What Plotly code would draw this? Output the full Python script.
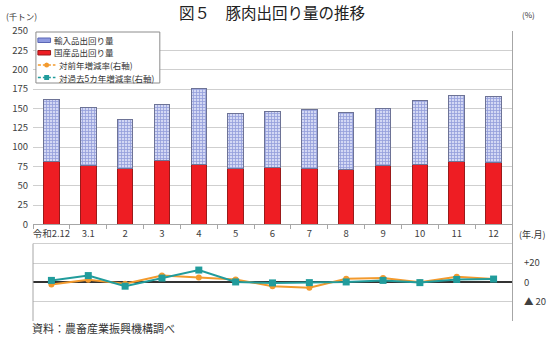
import plotly.graph_objects as go

# ---- data ----
labels = ["令和2.12", "3.1", "2", "3", "4", "5", "6", "7", "8", "9", "10", "11", "12"]
domestic = [81, 76.5, 72.5, 82.5, 78, 72, 73, 72, 71, 75.5, 77, 81.5, 80.5]
total = [161, 151.5, 136, 155, 176, 143, 146, 149, 145, 150, 159.5, 167, 165]
imports = [round(t - d, 1) for t, d in zip(total, domestic)]
yoy = [-2.3, 2.7, -1.5, 7, 5, 3, -4, -5.6, 3.7, 4.4, 0, 5.7, 3.4]
five_yr = [2, 7, -4, 4.4, 12.7, 0.4, -0.6, -0.3, 0.4, 2, -0.3, 3, 3.4]

left_ticks = list(range(-125, 251, 25))
left_text = [str(v) if v >= 0 else "" for v in left_ticks]
right_ticks = [20, 0, -20]
right_text = ["+20", "0", "▲ 20"]

FONT = "Noto Sans CJK JP"
W, H = 558, 340
L, R, T, B = 30, 37, 31, 19
PW, PH = W - L - R, H - T - B


def px(x):
    return (x - L) / PW


def py(y):
    return (H - B - y) / PH


fig = go.Figure()
fig.add_bar(
    x=labels, y=domestic, name="国産品出回り量", width=0.42,
    marker=dict(color="#ee1d23", line=dict(color="#9a1a1a", width=1)),
    showlegend=False,
)
fig.add_bar(
    x=labels, y=imports, name="輸入品出回り量", width=0.42,
    marker=dict(
        color="#cfd5f3",
        pattern=dict(shape="+", fgcolor="#5262c2", bgcolor="#d3d8f4", size=3, solidity=0.45),
        line=dict(color="#6d7396", width=1),
    ),
    showlegend=False,
)
fig.add_scatter(
    x=labels, y=yoy, yaxis="y2", mode="lines+markers", name="対前年増減率(右軸)",
    line=dict(color="#f39a2d", width=2),
    marker=dict(symbol="circle", size=6, color="#f39a2d"),
    showlegend=False,
)
fig.add_scatter(
    x=labels, y=five_yr, yaxis="y2", mode="lines+markers", name="対過去5カ年増減率(右軸)",
    line=dict(color="#219c9c", width=2),
    marker=dict(symbol="square", size=7, color="#219c9c"),
    showlegend=False,
)

shapes = [
    dict(type="line", xref="paper", yref="y", x0=0, x1=0, y0=-125, y1=-25,
         line=dict(color="#a6a6a6", width=1)),
    # legend box
    dict(type="rect", xref="paper", yref="paper", x0=px(33), x1=px(160), y0=py(83), y1=py(32),
         fillcolor="white", line=dict(color="#8c8c8c", width=1), layer="above"),
    dict(type="rect", xref="paper", yref="paper", x0=px(35), x1=px(48), y0=py(42.5), y1=py(38),
         fillcolor="#8f9ae0", line=dict(color="#5b67b5", width=1), layer="above"),
    dict(type="rect", xref="paper", yref="paper", x0=px(35), x1=px(48), y0=py(55), y1=py(50.5),
         fillcolor="#ee1d23", line=dict(color="#9a1a1a", width=1), layer="above"),
    dict(type="line", xref="paper", yref="paper", x0=px(35), x1=px(53), y0=py(65), y1=py(65),
         line=dict(color="#f39a2d", width=1.5, dash="3px,2px"), layer="above"),
    dict(type="circle", xref="paper", yref="paper", x0=px(41.5), x1=px(46.5), y0=py(67.5), y1=py(62.5),
         fillcolor="#f39a2d", line=dict(color="#f39a2d", width=0), layer="above"),
    dict(type="line", xref="paper", yref="paper", x0=px(35), x1=px(53), y0=py(77.5), y1=py(77.5),
         line=dict(color="#219c9c", width=1.5, dash="3px,2px"), layer="above"),
    dict(type="rect", xref="paper", yref="paper", x0=px(41.5), x1=px(46.5), y0=py(80), y1=py(75),
         fillcolor="#219c9c", line=dict(color="#219c9c", width=0), layer="above"),
]


def ann(text, x, y, size, anchor="left", color="#333333"):
    return dict(text=text, x=px(x), y=py(y), xref="paper", yref="paper", showarrow=False,
                xanchor=anchor, yanchor="middle", font=dict(family=FONT, size=size, color=color))


annotations = [
    ann("図５　豚肉出回り量の推移", 275, 12, 15.5, "center", "#222222"),
    ann("(千トン)", 18, 16, 8.5, "center"),
    ann("(%)", 538, 15, 8, "center"),
    ann("(年.月)", 542, 234, 9, "center"),
    ann("資料：農畜産業振興機構調べ", 27, 328, 11, "left"),
    ann("輸入品出回り量", 49, 40, 8.5),
    ann("国産品出回り量", 49, 52.5, 8.5),
    ann("対前年増減率(右軸)", 55, 65, 8.5),
    ann("対過去5カ年増減率(右軸)", 55, 77.5, 8.5),
]

fig.update_layout(
    width=W, height=H,
    margin=dict(l=L, r=R, t=T, b=B),
    paper_bgcolor="white", plot_bgcolor="white",
    barmode="stack", bargap=0.58,
    font=dict(family=FONT, size=9.5, color="#404040"),
    xaxis=dict(
        type="category", anchor="free", position=1 / 3, range=[-0.5, 12.5],
        showline=True, linecolor="#a6a6a6", linewidth=1,
        ticks="outside", tickson="boundaries", ticklen=4, tickcolor="#a6a6a6",
        tickangle=0, showgrid=False, tickfont=dict(size=9.5, color="#404040"),
    ),
    yaxis=dict(
        range=[-125, 250], tickmode="array", tickvals=left_ticks, ticktext=left_text,
        showgrid=True, gridcolor="#cfcfcf", gridwidth=1, zeroline=False, showline=False,
        ticks="", ticklabelstandoff=4, tickfont=dict(size=9.5, color="#404040"),
    ),
    yaxis2=dict(
        overlaying="y", side="right", range=[-40, 260], tickmode="array",
        tickvals=right_ticks, ticktext=right_text, showgrid=False,
        zeroline=True, zerolinecolor="#333333", zerolinewidth=1.5,
        showline=True, linecolor="#a6a6a6", linewidth=1,
        ticks="", ticklabelstandoff=9, tickfont=dict(size=9.5, color="#404040"),
    ),
    shapes=shapes,
    annotations=annotations,
)

fig.write_html("out.html")
